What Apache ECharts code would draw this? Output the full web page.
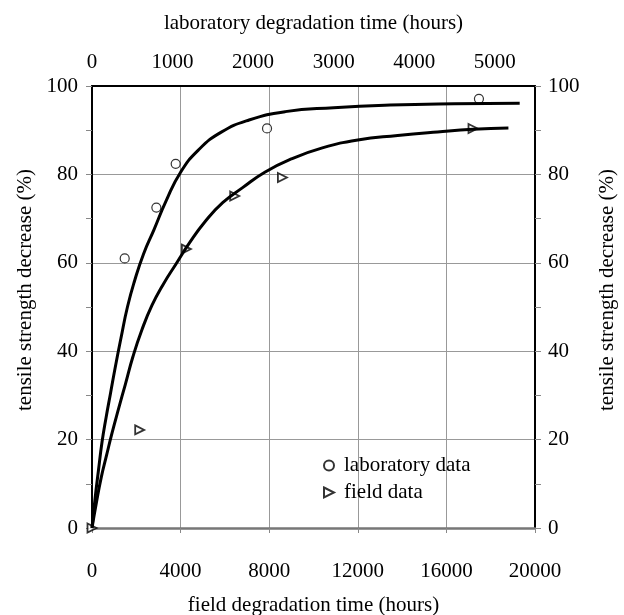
<!DOCTYPE html>
<html>
<head>
<meta charset="utf-8">
<script src="https://cdn.jsdelivr.net/npm/echarts@6/dist/echarts.min.js"></script>
<style>
html,body{margin:0;padding:0;background:#fff;}
#chart{width:624px;height:615px;}
</style>
</head>
<body>
<div id="chart"></div>
<script>
// ---- data ----
// laboratory measurements: [lab hours, % decrease]
const labData = [[406, 61.0], [799, 72.5], [1039, 82.4], [2173, 90.4], [4804, 97.1]];
// field measurements: [field hours, % decrease]
const fieldData = [[0, 0], [2153, 22.2], [4262, 63.1], [6442, 75.1], [8596, 79.3], [17201, 90.4]];
// fitted curve through laboratory data (lab hours)
const labCurve = [[0, 0], [40, 7], [80, 13], [125, 19.5], [175, 25], [230, 30.5], [290, 36.5], [360, 43],
  [440, 50], [530, 56], [640, 62], [770, 67.5], [920, 74], [1100, 80.5], [1320, 85.5], [1600, 89.5],
  [1950, 92.3], [2400, 94.2], [3000, 95.1], [3700, 95.7], [4500, 96.0], [5310, 96.1]];
// fitted curve through field data (field hours)
const fieldCurve = [[0, 0], [200, 5.8], [420, 11.5], [650, 16.3], [900, 21.4], [1200, 27], [1500, 32.4],
  [1850, 38.8], [2250, 44.8], [2700, 50.3], [3200, 55], [3800, 59.8], [4400, 64.5], [5100, 69.3],
  [5900, 73.6], [6800, 77], [7800, 80.5], [9000, 83.5], [10400, 86], [12000, 87.8], [13800, 88.8],
  [15600, 89.6], [17200, 90.2], [18800, 90.5]];
// axis ticks
const fieldTicks = {min: 0, max: 20000, interval: 4000};
const labTicks = {min: 0, max: 5500, interval: 1000};
const yTicks = {min: 0, max: 100, interval: 20};

const FONT = 'Liberation Serif';
const FS = 21;
const triangle = 'path://M0,0L10,5L0,10Z';
const plain = v => String(v);

const chart = echarts.init(document.getElementById('chart'), null, {renderer: 'canvas'});
chart.setOption({
  animation: false,
  backgroundColor: '#fff',
  textStyle: {fontFamily: FONT, color: '#000'},
  grid: {left: 92, right: 89, top: 86, bottom: 87, containLabel: false, outerBoundsMode: 'none'},
  legend: {
    orient: 'vertical', left: 318, top: 450, itemWidth: 10, itemHeight: 10, itemGap: 6,
    textStyle: {fontFamily: FONT, fontSize: FS, color: '#000', padding: [0, 0, 0, 5]},
    data: [{name: 'laboratory data', icon: 'circle'}, {name: 'field data', icon: triangle}]
  },
  xAxis: [
    {
      type: 'value', position: 'bottom', min: fieldTicks.min, max: fieldTicks.max, interval: fieldTicks.interval,
      name: 'field degradation time (hours)', nameLocation: 'middle', nameGap: 67,
      nameTextStyle: {fontFamily: FONT, fontSize: FS, color: '#000'},
      axisLine: {show: true, onZero: false, lineStyle: {color: '#777', width: 2.5}},
      axisTick: {show: true, inside: false, length: 5, lineStyle: {color: '#888', width: 1}},
      axisLabel: {margin: 33, fontFamily: FONT, fontSize: FS, color: '#000', formatter: plain},
      splitLine: {show: true, lineStyle: {color: '#999', width: 1}}
    },
    {
      type: 'value', position: 'top', min: labTicks.min, max: labTicks.max, interval: labTicks.interval,
      name: 'laboratory degradation time (hours)', nameLocation: 'middle', nameGap: 52,
      nameTextStyle: {fontFamily: FONT, fontSize: FS, color: '#000'},
      axisLine: {show: true, onZero: false, lineStyle: {color: '#000', width: 2}},
      axisTick: {show: false},
      axisLabel: {margin: 13, fontFamily: FONT, fontSize: FS, color: '#000', showMaxLabel: false, formatter: plain},
      splitLine: {show: false}
    }
  ],
  yAxis: [
    {
      type: 'value', position: 'left', min: yTicks.min, max: yTicks.max, interval: yTicks.interval,
      name: 'tensile strength decrease (%)', nameLocation: 'middle', nameGap: 55,
      nameTextStyle: {fontFamily: FONT, fontSize: FS, color: '#000', padding: [0, 0, 0, 34]},
      axisLine: {show: true, onZero: false, lineStyle: {color: '#000', width: 2}},
      axisTick: {show: true, inside: false, length: 6, lineStyle: {color: '#888', width: 1}},
      minorTick: {show: true, splitNumber: 2, length: 6, lineStyle: {color: '#888', width: 1}},
      axisLabel: {margin: 14, fontFamily: FONT, fontSize: FS, color: '#000'},
      splitLine: {show: true, lineStyle: {color: '#999', width: 1}}
    },
    {
      type: 'value', position: 'right', min: yTicks.min, max: yTicks.max, interval: yTicks.interval,
      name: 'tensile strength decrease (%)', nameLocation: 'middle', nameGap: 62,
      nameTextStyle: {fontFamily: FONT, fontSize: FS, color: '#000', padding: [0, 0, 0, 34]},
      axisLine: {show: true, onZero: false, lineStyle: {color: '#000', width: 2}},
      axisTick: {show: true, inside: false, length: 6, lineStyle: {color: '#888', width: 1}},
      minorTick: {show: true, splitNumber: 2, length: 6, lineStyle: {color: '#888', width: 1}},
      axisLabel: {margin: 13, fontFamily: FONT, fontSize: FS, color: '#000'},
      splitLine: {show: false}
    }
  ],
  series: [
    {
      name: 'laboratory data', type: 'scatter', xAxisIndex: 1, yAxisIndex: 0, data: labData,
      symbol: 'circle', symbolSize: 9, z: 2,
      itemStyle: {color: '#fff', borderColor: '#000', borderWidth: 1.2}
    },
    {
      name: 'field data', type: 'scatter', xAxisIndex: 0, yAxisIndex: 0, data: fieldData,
      symbol: triangle, symbolSize: [9, 9], z: 2,
      itemStyle: {color: '#fff', borderColor: '#000', borderWidth: 1.8}
    },
    {
      name: 'lab fit', type: 'line', xAxisIndex: 1, yAxisIndex: 0, data: labCurve,
      showSymbol: false, symbol: 'none', smooth: 0.5, z: 3,
      lineStyle: {color: '#000', width: 3}
    },
    {
      name: 'field fit', type: 'line', xAxisIndex: 0, yAxisIndex: 0, data: fieldCurve,
      showSymbol: false, symbol: 'none', smooth: 0.5, z: 3,
      lineStyle: {color: '#000', width: 3}
    }
  ]
});
</script>
</body>
</html>
